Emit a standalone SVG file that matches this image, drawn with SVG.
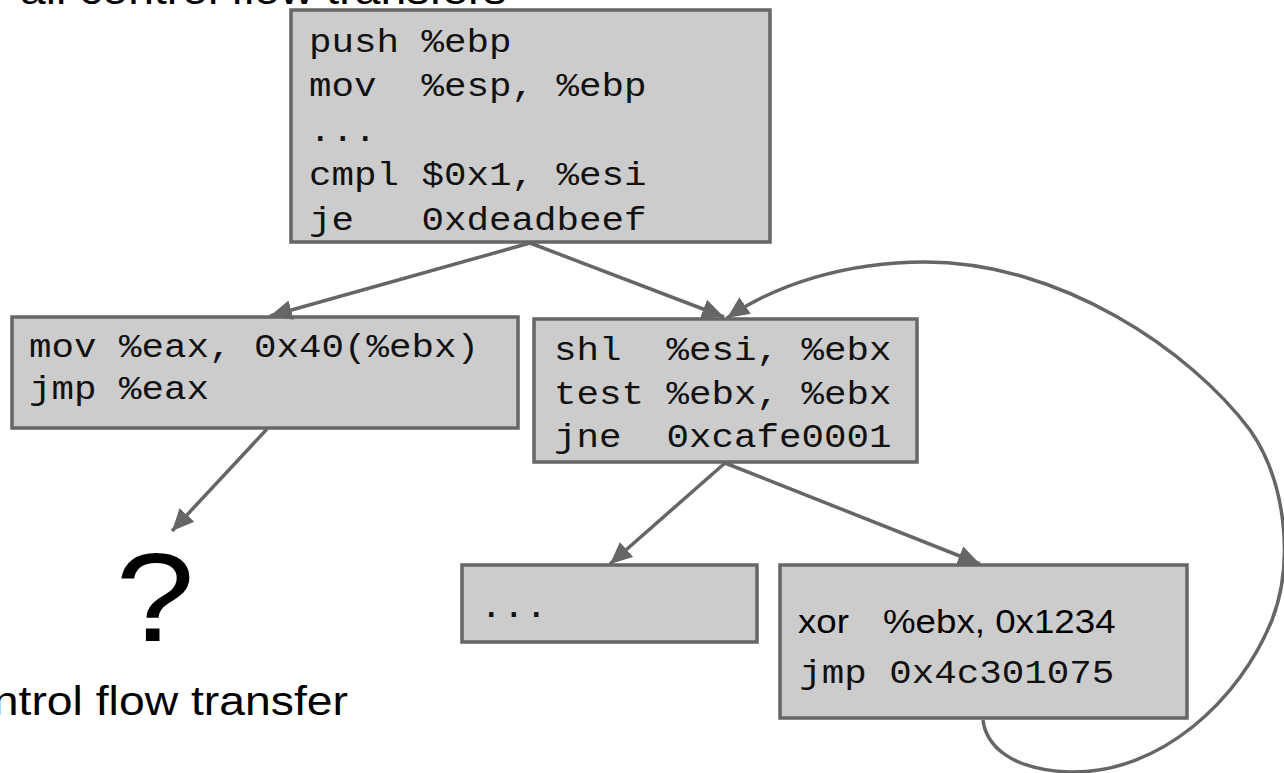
<svg xmlns="http://www.w3.org/2000/svg" width="1284" height="773" viewBox="0 0 1284 773">
  <style>
    .box { fill: #cccccc; stroke: #666666; stroke-width: 3.5; }
    .code { font-family: "Liberation Mono", "Courier New", monospace; font-size: 33.2px; fill: #111111; white-space: pre; }
    .sans { font-family: "Liberation Sans", Arial, sans-serif; fill: #000000; }
    .edge { fill: none; stroke: #666666; stroke-width: 3.5; marker-end: url(#arrow); }
  </style>
  <defs>
    <marker id="arrow" markerUnits="userSpaceOnUse" markerWidth="24" markerHeight="22" refX="22" refY="11" orient="auto">
      <path d="M0,1 L22,11 L0,21 z" fill="#666666"/>
    </marker>
  </defs>

  <rect width="1284" height="773" fill="#ffffff"/>

  <!-- caption above the graph (mostly off the top edge) -->
  <g id="caption-top" transform="translate(20 0) scale(1.13 1)">
    <text class="sans" x="0" y="3.5" font-size="41">all control flow transfers</text>
  </g>

  <!-- entry block -->
  <g id="block-entry">
    <rect class="box" x="291" y="10" width="479" height="232"/>
    <g transform="translate(309 0) scale(1.13 1)">
      <text class="code" x="0" y="52" xml:space="preserve">push %ebp</text>
      <text class="code" x="0" y="96" xml:space="preserve">mov  %esp, %ebp</text>
      <text class="code" x="0" y="141" xml:space="preserve">...</text>
      <text class="code" x="0" y="185" xml:space="preserve">cmpl $0x1, %esi</text>
      <text class="code" x="0" y="230" xml:space="preserve">je   0xdeadbeef</text>
    </g>
  </g>

  <!-- indirect jump block -->
  <g id="block-indirect">
    <rect class="box" x="12" y="317" width="506" height="111"/>
    <g transform="translate(29 0) scale(1.13 1)">
      <text class="code" x="0" y="357" xml:space="preserve">mov %eax, 0x40(%ebx)</text>
      <text class="code" x="0" y="399" xml:space="preserve">jmp %eax</text>
    </g>
  </g>

  <!-- loop header block -->
  <g id="block-loop">
    <rect class="box" x="534" y="319" width="383" height="143"/>
    <g transform="translate(554 0) scale(1.13 1)">
      <text class="code" x="0" y="360" xml:space="preserve">shl  %esi, %ebx</text>
      <text class="code" x="0" y="404" xml:space="preserve">test %ebx, %ebx</text>
      <text class="code" x="0" y="447" xml:space="preserve">jne  0xcafe0001</text>
    </g>
  </g>

  <!-- fall-through block -->
  <g id="block-fallthrough">
    <rect class="box" x="462" y="565" width="295" height="77"/>
    <g transform="translate(480 0) scale(1.13 1)">
      <text class="code" x="0" y="617" xml:space="preserve">...</text>
    </g>
  </g>

  <!-- back-edge block -->
  <g id="block-backedge">
    <rect class="box" x="780" y="565" width="407" height="153"/>
    <g transform="translate(798 0) scale(1.13 1)">
      <text class="sans" x="0" y="633" font-size="32.5">xor<tspan x="75.2">%ebx, 0x1234</tspan></text>
      <text class="code" x="1" y="683" xml:space="preserve">jmp 0x4c301075</text>
    </g>
  </g>

  <!-- unknown target of the indirect jump -->
  <g id="unknown-target">
    <g transform="translate(155 0) scale(1.13 1)">
      <text class="sans" x="0" y="641" font-size="126" text-anchor="middle">?</text>
    </g>
    <g transform="translate(348 0) scale(1.13 1)">
      <text class="sans" x="0" y="715" font-size="41" text-anchor="end">control flow transfer</text>
    </g>
  </g>

  <!-- control flow edges -->
  <g id="edges">
    <path class="edge" d="M530 243 L270 316"/>
    <path class="edge" d="M530 243 L724 317"/>
    <path class="edge" d="M267 429 L172 531"/>
    <path class="edge" d="M725 463 L610 564"/>
    <path class="edge" d="M725 463 L980 564"/>
    <path class="edge" d="M983 720 C986 745 1010 770 1070 772 C1160 774 1240 700 1272 620 C1295 560 1285 480 1250 430 C1190 350 1060 262 925 262 C845 262 775 285 727 318"/>
  </g>
</svg>
